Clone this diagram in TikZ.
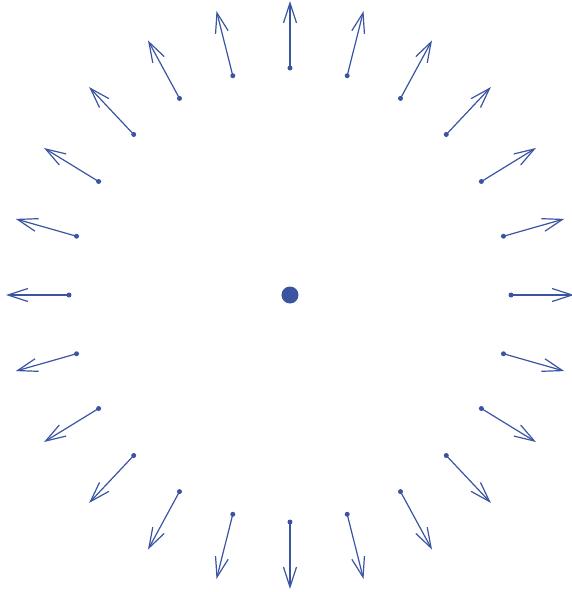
\documentclass[tikz,border=0pt]{standalone}
\usetikzlibrary{arrows.meta}
\definecolor{fieldblue}{RGB}{58,84,162}

\begin{document}
\begin{tikzpicture}[x=1pt, y=1pt,
          src/.style={circle, fill=fieldblue, inner sep=0pt, minimum size=17pt},
          pt/.style={circle, fill=fieldblue, inner sep=0pt, minimum size=5pt},
          ray/.style={draw=fieldblue, line width=1.2pt,
                      -{Straight Barb[length=20pt, width=13pt, line width=1.2pt]}}]
        \useasboundingbox (-290,-297) rectangle (282,295);
        \node[src] (q) at (0,0) {};
        \foreach \i in {0,...,23} {
          \pgfmathsetmacro{\ang}{15*\i}
          \node[pt] (d\i) at (\ang:221 and 227) {};
          \coordinate (t\i) at (\ang:284 and 294);
          \draw[ray] (d\i.center) -- (t\i);
        }
      \end{tikzpicture}
\end{document}
